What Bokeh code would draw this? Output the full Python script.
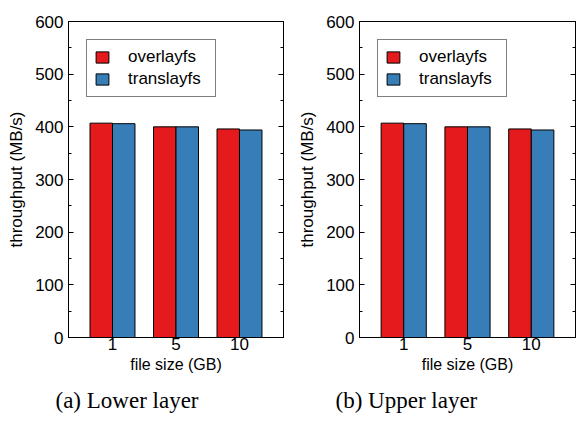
from bokeh.plotting import figure
from bokeh.models import (ColumnDataSource, FactorRange, LinearAxis, SingleIntervalTicker,
                          Range1d, Title)
from bokeh.transform import dodge
from bokeh.layouts import row
from bokeh.embed import file_html
from bokeh.resources import INLINE

file_sizes = ["1", "5", "10"]
lower_overlayfs = [407, 400, 396]
lower_translayfs = [406, 400, 394]
upper_overlayfs = [407, 400, 396]
upper_translayfs = [406, 400, 394]
captions = ["(a) Lower layer", "(b) Upper layer"]

RED = "#e41a1c"
BLUE = "#377eb8"
SANS = "Liberation Sans"
SERIF = "Liberation Serif"


def make_panel(overlay, transl, caption, left_border, right_border, cap_offset):
    src = ColumnDataSource(dict(size=file_sizes, overlayfs=overlay, translayfs=transl))
    p = figure(width=288, height=432, output_backend="svg", toolbar_location=None,
               x_range=FactorRange(factors=file_sizes, range_padding=0.1287,
                                   range_padding_units="percent"),
               y_range=Range1d(0, 600),
               min_border_left=left_border, min_border_right=right_border,
               min_border_top=21, min_border_bottom=95)
    w = 0.354
    p.vbar(x=dodge("size", -w / 2, range=p.x_range), top="overlayfs", width=w, source=src,
           fill_color=RED, line_color="black", line_width=1, legend_label="overlayfs")
    p.vbar(x=dodge("size", w / 2, range=p.x_range), top="translayfs", width=w, source=src,
           fill_color=BLUE, line_color="black", line_width=1, legend_label="translayfs")

    p.grid.visible = False
    p.outline_line_color = "black"
    p.outline_line_width = 1
    p.background_fill_color = "white"
    p.border_fill_color = "white"

    ya = p.yaxis[0]
    ya.ticker = SingleIntervalTicker(interval=100, num_minor_ticks=2)
    ya.major_tick_in = 5
    ya.major_tick_out = 0
    ya.minor_tick_in = 3
    ya.minor_tick_out = 0
    ya.major_label_standoff = 5
    ya.major_label_text_font = SANS
    ya.major_label_text_font_size = "17px"
    ya.major_label_text_color = "black"
    ya.axis_label = "throughput (MB/s)"
    ya.axis_label_text_font = SANS
    ya.axis_label_text_font_size = "17px"
    ya.axis_label_text_font_style = "normal"
    ya.axis_label_text_color = "black"
    ya.axis_label_standoff = 6
    ya.axis_line_color = "black"

    ra = LinearAxis(ticker=SingleIntervalTicker(interval=100, num_minor_ticks=2))
    ra.major_tick_in = 5
    ra.major_tick_out = 0
    ra.minor_tick_in = 3
    ra.minor_tick_out = 0
    ra.major_label_overrides = {v: "" for v in range(0, 700, 100)}
    ra.major_label_standoff = 0
    ra.axis_line_color = "black"
    p.add_layout(ra, "right")

    xa = p.xaxis[0]
    xa.major_tick_line_color = None
    xa.minor_tick_line_color = None
    xa.major_tick_in = 0
    xa.major_tick_out = 0
    xa.major_label_standoff = 0
    xa.major_label_text_font = SANS
    xa.major_label_text_font_size = "17px"
    xa.major_label_text_color = "black"
    xa.axis_label = "file size (GB)"
    xa.axis_label_text_font = SANS
    xa.axis_label_text_font_size = "16px"
    xa.axis_label_text_font_style = "normal"
    xa.axis_label_text_color = "black"
    xa.axis_label_standoff = 3
    xa.axis_line_color = "black"

    lg = p.legend[0]
    lg.location = "top_left"
    lg.margin = 18
    lg.padding = 7
    lg.spacing = 2
    lg.glyph_width = 16
    lg.glyph_height = 14
    lg.label_height = 16
    lg.label_width = 80
    lg.label_standoff = 18
    lg.label_text_font = SANS
    lg.label_text_font_size = "17px"
    lg.label_text_color = "black"
    lg.border_line_color = "black"
    lg.border_line_width = 1
    lg.background_fill_alpha = 1

    t = Title(text=caption, align="left", offset=cap_offset, text_font=SERIF,
              text_font_size="23px", text_font_style="normal", text_color="black",
              standoff=21)
    p.add_layout(t, "below")
    return p


p1 = make_panel(lower_overlayfs, lower_translayfs, captions[0], 68, 5, -13)
p2 = make_panel(upper_overlayfs, upper_translayfs, captions[1], 71, 1, -24)
layout = row(p1, p2)

open("out.html", "w").write(file_html(layout, INLINE))
